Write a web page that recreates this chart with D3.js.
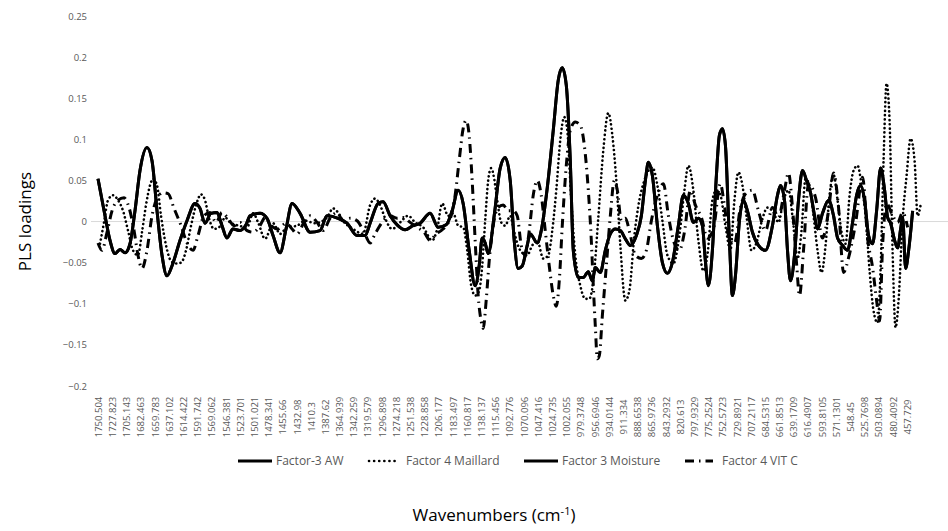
<!DOCTYPE html>
<html>
<head>
<meta charset="utf-8">
<script src="https://cdn.jsdelivr.net/npm/d3@7/dist/d3.min.js"></script>
<style>
    body { margin: 0; background: #fff; }
    text { font-family: "Open Sans", sans-serif; }
</style>
</head>
<body>
<script>
//series names as they appear in the legend
var seriesNames = ["Factor-3 AW", "Factor 4 Maillard", "Factor 3 Moisture", "Factor 4 VIT C"];

//category labels along the wavenumber axis
var tickLabels = ["1750.504", "1727.823", "1705.143", "1682.463", "1659.783", "1637.102", "1614.422",
    "1591.742", "1569.062", "1546.381", "1523.701", "1501.021", "1478.341", "1455.66", "1432.98",
    "1410.3", "1387.62", "1364.939", "1342.259", "1319.579", "1296.898", "1274.218", "1251.538",
    "1228.858", "1206.177", "1183.497", "1160.817", "1138.137", "1115.456", "1092.776", "1070.096",
    "1047.416", "1024.735", "1002.055", "979.3748", "956.6946", "934.0144", "911.334", "888.6538",
    "865.9736", "843.2932", "820.613", "797.9329", "775.2524", "752.5723", "729.8921", "707.2117",
    "684.5315", "661.8513", "639.1709", "616.4907", "593.8105", "571.1301", "548.45", "525.7698",
    "503.0894", "480.4092", "457.729"];

var yTicks = [0.25, 0.2, 0.15, 0.1, 0.05, 0, -0.05, -0.1, -0.15, -0.2];

//[wavenumber, loading]
var awLoadings = [[1750.5,0.052],[1739.3,0.007],[1731.3,-0.023],[1723.3,-0.039],[1715.3,-0.034],[1707.3,-0.038],
    [1699.4,-0.027],[1691.4,0.013],[1683.4,0.062],[1672.2,0.09],[1664.2,0.074],[1656.2,0.013],[1648.2,-0.041],
    [1640.2,-0.066],[1632.3,-0.054],[1619.5,-0.023],[1608.3,0.001],[1595.5,0.022],[1587.5,0.016],[1579.5,-0.002],
    [1570.0,0.01],[1560.4,0.011],[1552.4,-0.005],[1544.4,-0.02],[1534.8,-0.009],[1523.6,-0.011],[1514.0,-0.004],
    [1507.6,0.007],[1491.6,0.01],[1480.4,0.004],[1470.8,-0.017],[1459.6,-0.038],[1450.0,-0.009],[1440.4,0.022],
    [1427.6,0.01],[1411.6,-0.013],[1395.7,-0.011],[1384.5,0.007],[1366.9,0.004],[1352.5,-0.002],[1336.5,-0.017],
    [1323.7,-0.017],[1315.7,-0.002],[1302.9,0.022],[1294.9,0.024],[1283.7,0.007],[1272.5,-0.004],[1259.7,-0.01],
    [1247.0,-0.005],[1235.8,-0.002],[1219.8,0.01],[1207.0,-0.007],[1194.2,-0.004],[1184.6,0.013],[1175.0,0.038],
    [1167.0,0.022],[1157.4,-0.035],[1147.8,-0.078],[1141.4,-0.054],[1136.6,-0.02],[1131.8,-0.026],[1127.0,-0.039],
    [1117.4,0.007],[1107.8,0.065],[1099.8,0.078],[1091.8,0.05],[1085.4,-0.023],[1079.0,-0.057],[1072.6,-0.054],
    [1064.6,-0.029],[1059.8,-0.015],[1048.6,-0.026],[1042.2,-0.011],[1032.6,0.041],[1023.0,0.111],[1015.0,0.172],
    [1008.6,0.187],[1002.2,0.166],[995.8,0.074],[991.0,-0.035],[983.0,-0.068],[975.0,-0.068],[967.0,-0.061],
    [960.6,-0.072],[955.8,-0.056],[947.8,-0.062],[939.8,-0.035],[931.8,-0.015],[923.8,-0.009],[915.8,-0.011],
    [907.8,-0.021],[899.8,-0.029],[890.2,-0.017],[882.2,0.007],[875.8,0.05],[871.0,0.072],[864.6,0.056],
    [856.6,-0.005],[848.6,-0.05],[840.6,-0.063],[832.7,-0.05],[823.1,-0.005],[815.1,0.032],[807.1,0.022],
    [799.1,-0.001],[791.1,0.004],[784.7,-0.005],[779.9,-0.048],[775.1,-0.078],[768.7,-0.035],[762.3,0.056],
    [757.5,0.105],[752.7,0.113],[747.9,0.093],[741.5,-0.023],[736.7,-0.09],[731.9,-0.066],[725.5,0.001],
    [719.1,0.026],[712.7,0.013],[704.7,-0.013],[695.1,-0.029],[683.9,-0.035],[672.7,-0.005],[664.7,0.032],
    [659.9,0.044],[653.5,0.026],[648.7,-0.035],[643.9,-0.072],[637.5,-0.041],[631.1,0.026],[624.7,0.062],
    [618.3,0.05],[611.9,0.035],[605.5,0.007],[600.7,-0.009],[592.7,0.01],[583.1,0.026],[575.1,0.007],
    [568.7,-0.02],[560.7,-0.029],[552.7,-0.035],[544.7,-0.001],[538.3,0.032],[531.9,0.044],[525.5,0.026],
    [519.1,-0.017],[512.7,-0.027],[506.3,0.013],[499.9,0.065],[493.5,0.038],[488.7,0.005],[483.9,-0.002],
    [477.5,-0.023],[472.7,-0.032],[467.9,-0.009],[464.7,0.005],[459.9,-0.057],[455.1,-0.035],[448.7,0.013]];

var maillardLoadings = [[1747.3,-0.027],[1740.9,-0.001],[1734.5,0.026],[1726.5,0.032],[1718.5,0.026],[1710.5,0.013],
    [1702.5,-0.011],[1694.6,-0.035],[1686.6,-0.041],[1680.2,-0.013],[1673.8,0.02],[1667.4,0.044],[1662.6,0.052],
    [1656.2,0.044],[1649.8,0.007],[1641.8,-0.029],[1633.8,-0.048],[1625.8,-0.051],[1617.8,-0.05],[1609.8,-0.035],
    [1601.8,-0.005],[1593.8,0.02],[1585.9,0.033],[1579.5,0.026],[1573.1,0.004],[1565.1,-0.009],[1555.5,-0.006],
    [1547.5,0.005],[1539.5,-0.001],[1529.9,-0.004],[1520.3,-0.006],[1512.3,-0.007],[1502.7,0.01],[1494.7,-0.001],
    [1483.5,-0.021],[1470.8,-0.002],[1459.6,-0.015],[1448.4,-0.007],[1432.4,-0.005],[1419.6,0.001],[1403.6,-0.002],
    [1384.5,0.005],[1374.9,0.016],[1366.9,0.011],[1358.9,0.001],[1342.9,-0.009],[1326.9,-0.015],[1315.7,0.02],
    [1307.7,0.028],[1299.7,0.02],[1291.7,0.004],[1280.5,-0.009],[1267.7,-0.001],[1254.9,0.007],[1243.7,-0.001],
    [1230.9,-0.007],[1216.5,-0.023],[1208.5,-0.009],[1200.5,0.022],[1190.9,0.007],[1182.9,0.01],[1174.9,-0.005],
    [1166.9,-0.007],[1160.5,-0.035],[1154.1,-0.078],[1147.7,-0.09],[1141.3,-0.084],[1136.6,-0.054],[1131.8,0.001],
    [1127.0,0.05],[1122.2,0.065],[1117.4,0.052],[1112.6,0.026],[1106.2,-0.001],[1099.8,-0.005],[1091.8,0.007],
    [1085.4,-0.013],[1075.8,-0.035],[1064.6,-0.041],[1056.6,-0.029],[1048.6,-0.023],[1039.0,-0.045],[1031.0,-0.041],
    [1024.6,-0.011],[1018.2,0.038],[1011.8,0.099],[1005.4,0.127],[1000.6,0.111],[994.2,0.026],[987.8,-0.041],
    [979.8,-0.078],[971.8,-0.094],[965.4,-0.094],[959.0,-0.072],[951.0,0.005],[943.0,0.087],[935.0,0.132],
    [928.6,0.105],[922.2,0.05],[915.8,-0.029],[907.8,-0.096],[901.4,-0.084],[893.4,-0.017],[885.4,0.026],
    [877.4,0.05],[864.6,0.066],[856.6,0.044],[848.6,0.001],[840.6,-0.041],[831.0,-0.051],[821.5,-0.017],
    [813.4,0.038],[807.1,0.068],[799.1,0.038],[791.1,-0.023],[783.1,-0.06],[776.7,-0.041],[768.7,0.026],
    [762.3,0.038],[755.9,0.032],[747.9,-0.005],[739.9,-0.035],[733.5,0.026],[727.1,0.06],[720.7,0.044],
    [714.3,0.007],[706.3,-0.035],[698.3,-0.026],[690.3,-0.001],[680.7,0.017],[671.1,0.011],[663.1,-0.001],
    [655.1,0.026],[647.1,0.038],[639.1,-0.005],[632.7,-0.045],[626.3,-0.011],[619.9,0.052],[613.5,0.044],
    [607.1,0.007],[600.7,-0.035],[594.3,-0.062],[587.9,-0.029],[581.5,0.032],[575.1,0.057],[568.7,0.026],
    [562.3,-0.013],[555.9,-0.027],[549.5,0.032],[543.1,0.062],[536.7,0.068],[530.3,0.044],[523.9,0.007],
    [517.5,-0.06],[511.1,-0.109],[504.8,-0.123],[500.0,-0.06],[495.2,0.074],[490.4,0.168],[485.6,0.123],
    [480.8,-0.035],[476.0,-0.129],[471.2,-0.096],[464.8,0.001],[458.4,0.056],[452.0,0.101],[445.6,0.074],
    [440.8,0.007],[436.0,0.02]];

//moisture loadings sit exactly on top of the AW curve in the chart
var moistureLoadings = awLoadings;

var vitCLoadings = [[1750.5,-0.026],[1744.1,-0.035],[1736.1,-0.013],[1728.1,0.013],[1718.5,0.026],[1708.9,0.029],
    [1700.9,0.017],[1692.9,-0.011],[1686.6,-0.041],[1680.2,-0.057],[1672.2,-0.035],[1664.2,0.007],[1656.2,0.028],
    [1646.6,0.035],[1638.6,0.034],[1629.0,0.016],[1617.8,-0.005],[1608.3,-0.026],[1598.7,-0.035],[1590.7,-0.017],
    [1581.1,0.007],[1571.5,0.011],[1561.9,-0.001],[1552.4,0.011],[1542.8,0.004],[1533.2,-0.005],[1523.6,-0.001],
    [1512.3,-0.011],[1502.7,-0.013],[1491.6,-0.005],[1483.5,0.005],[1473.9,-0.005],[1462.7,-0.009],[1450.0,-0.002],
    [1440.4,-0.009],[1432.4,-0.015],[1421.2,-0.001],[1411.6,0.007],[1400.4,-0.001],[1390.8,-0.011],[1379.7,0.004],
    [1368.5,0.011],[1358.9,0.001],[1347.7,0.004],[1336.5,0.001],[1325.3,-0.013],[1315.7,-0.026],[1307.7,-0.015],
    [1296.5,-0.001],[1283.7,0.007],[1272.5,0.004],[1262.9,0.005],[1251.8,-0.001],[1240.6,-0.007],[1229.4,-0.013],
    [1219.8,-0.023],[1210.2,-0.015],[1202.2,-0.011],[1194.2,-0.005],[1186.2,0.007],[1179.8,0.032],[1173.4,0.074],
    [1167.0,0.113],[1162.2,0.123],[1157.4,0.105],[1152.6,0.05],[1147.8,-0.023],[1143.0,-0.09],[1138.2,-0.121],
    [1135.0,-0.13],[1130.2,-0.096],[1125.4,-0.048],[1119.0,-0.005],[1111.0,0.017],[1103.0,0.02],[1095.0,0.013],
    [1087.0,0.013],[1080.6,0.007],[1074.2,-0.029],[1067.8,-0.041],[1061.4,-0.011],[1055.0,0.032],[1048.6,0.05],
    [1042.2,0.032],[1035.8,-0.011],[1029.4,-0.054],[1023.0,-0.09],[1018.2,-0.103],[1013.4,-0.072],[1008.6,-0.005],
    [1002.2,0.068],[995.8,0.111],[987.8,0.121],[979.8,0.117],[973.4,0.093],[967.0,0.038],[962.2,-0.023],
    [959.0,-0.078],[955.8,-0.127],[952.6,-0.167],[949.4,-0.163],[944.6,-0.115],[938.2,-0.054],[931.8,0.007],
    [925.4,0.05],[920.6,0.038],[914.2,0.001],[907.8,0.004],[899.8,-0.017],[891.8,-0.041],[882.2,-0.045],
    [874.2,-0.035],[866.2,0.001],[856.6,0.032],[847.0,0.046],[839.0,0.007],[831.0,-0.023],[821.5,-0.035],
    [813.4,-0.013],[803.9,0.038],[795.9,0.02],[786.3,0.005],[776.7,-0.02],[767.1,-0.009],[756.0,0.046],
    [749.6,0.02],[741.5,-0.021],[733.5,-0.027],[723.9,0.017],[714.3,0.035],[704.7,0.038],[695.1,0.013],
    [683.9,-0.011],[672.7,0.017],[663.1,0.005],[653.5,0.038],[647.1,0.059],[640.7,0.017],[634.3,-0.05],
    [629.5,-0.09],[623.1,-0.035],[615.1,0.046],[603.9,0.029],[592.7,-0.02],[583.1,0.013],[575.1,0.059],
    [567.1,0.017],[559.1,-0.062],[551.1,-0.044],[539.9,-0.002],[528.7,0.054],[520.7,-0.02],[512.7,-0.056],
    [506.3,-0.096],[501.5,-0.121],[496.7,-0.029],[490.3,0.022],[482.3,0.01],[472.7,-0.001],[464.7,0.011],
    [456.7,-0.007]];

var seriesData = [awLoadings, maillardLoadings, moistureLoadings, vitCLoadings];

//line dash styles per series
var dashStyles = [null, "0.1,4.2", null, "9,5,1.5,5"];

window.onload = setChart();

function setChart(){
    var width = 948,
        height = 531;

    var svg = d3.select("body")
        .append("svg")
        .attr("width", width)
        .attr("height", height);

    //wavenumber axis runs high to low
    var xScale = d3.scaleLinear()
        .domain([1750.504, 457.729])
        .range([98, 907]);

    var yScale = d3.scaleLinear()
        .domain([-0.2, 0.25])
        .range([386, 16]);

    //zero line
    svg.append("line")
        .attr("x1", 91)
        .attr("x2", width)
        .attr("y1", yScale(0))
        .attr("y2", yScale(0))
        .style("stroke", "#d9d9d9")
        .style("stroke-width", 1);

    //y tick labels
    var yAxis = d3.axisLeft(yScale)
        .tickValues(yTicks)
        .tickSize(0)
        .tickPadding(0)
        .tickFormat(function(d){ return d3.format("")(+d.toFixed(2)); });

    var yAxisG = svg.append("g")
        .attr("transform", "translate(87,0)")
        .call(yAxis);
    yAxisG.select(".domain").remove();
    yAxisG.selectAll("text")
        .style("font-family", "Open Sans, sans-serif")
        .style("font-size", "9.5px")
        .style("fill", "#595959");

    //x tick labels, rotated
    var xAxis = d3.axisBottom(xScale)
        .tickValues(tickLabels.map(Number))
        .tickSize(0)
        .tickFormat(function(d, i){ return tickLabels[i]; });

    var xAxisG = svg.append("g")
        .attr("transform", "translate(0,417)")
        .call(xAxis);
    xAxisG.select(".domain").remove();
    xAxisG.selectAll("text")
        .attr("transform", "rotate(-90)")
        .attr("x", 0)
        .attr("y", 0)
        .attr("dy", "0.35em")
        .style("text-anchor", "middle")
        .style("font-family", "Open Sans, sans-serif")
        .style("font-size", "9.5px")
        .style("fill", "#595959");

    var line = d3.line()
        .x(function(d){ return xScale(d[0]); })
        .y(function(d){ return yScale(d[1]); })
        .curve(d3.curveMonotoneX);

    //draw series in legend order
    svg.selectAll(".series")
        .data(seriesData)
        .enter()
        .append("path")
        .attr("class", "series")
        .attr("d", line)
        .style("fill", "none")
        .style("stroke", "#000")
        .style("stroke-width", function(d, i){ return i == 1 ? 2.6 : 3; })
        .style("stroke-linecap", function(d, i){ return i == 1 ? "round" : "butt"; })
        .style("stroke-linejoin", "round")
        .style("stroke-dasharray", function(d, i){ return dashStyles[i]; });

    //legend
    var legendX = [238, 369, 524, 685],
        legendLen = [34, 28, 34, 28],
        legendY = 461;

    var legend = svg.selectAll(".legendItem")
        .data(seriesNames)
        .enter()
        .append("g")
        .attr("class", "legendItem");

    legend.append("line")
        .attr("x1", function(d, i){ return legendX[i]; })
        .attr("x2", function(d, i){ return legendX[i] + legendLen[i]; })
        .attr("y1", legendY)
        .attr("y2", legendY)
        .style("stroke", "#000")
        .style("stroke-width", function(d, i){ return i == 1 ? 2.6 : 3; })
        .style("stroke-linecap", function(d, i){ return i == 1 ? "round" : "butt"; })
        .style("stroke-dasharray", function(d, i){ return i == 1 ? "0.1,5" : dashStyles[i]; });

    legend.append("text")
        .attr("x", function(d, i){ return legendX[i] + legendLen[i] + (i == 1 || i == 3 ? 9 : 4); })
        .attr("y", legendY)
        .attr("dy", "0.35em")
        .style("font-size", "12px")
        .style("fill", "#595959")
        .text(function(d){ return d; });

    //axis titles
    svg.append("text")
        .attr("transform", "translate(31," + yScale(0) + ") rotate(-90)")
        .style("text-anchor", "middle")
        .style("font-size", "17px")
        .style("fill", "#000")
        .text("PLS loadings");

    var xTitle = svg.append("text")
        .attr("x", 494)
        .attr("y", 521)
        .style("text-anchor", "middle")
        .style("font-size", "17px")
        .style("fill", "#000");
    xTitle.append("tspan").text("Wavenumbers (cm");
    xTitle.append("tspan")
        .attr("dy", -6)
        .style("font-size", "11px")
        .text("-1");
    xTitle.append("tspan")
        .attr("dy", 6)
        .text(")");
};
</script>
</body>
</html>
